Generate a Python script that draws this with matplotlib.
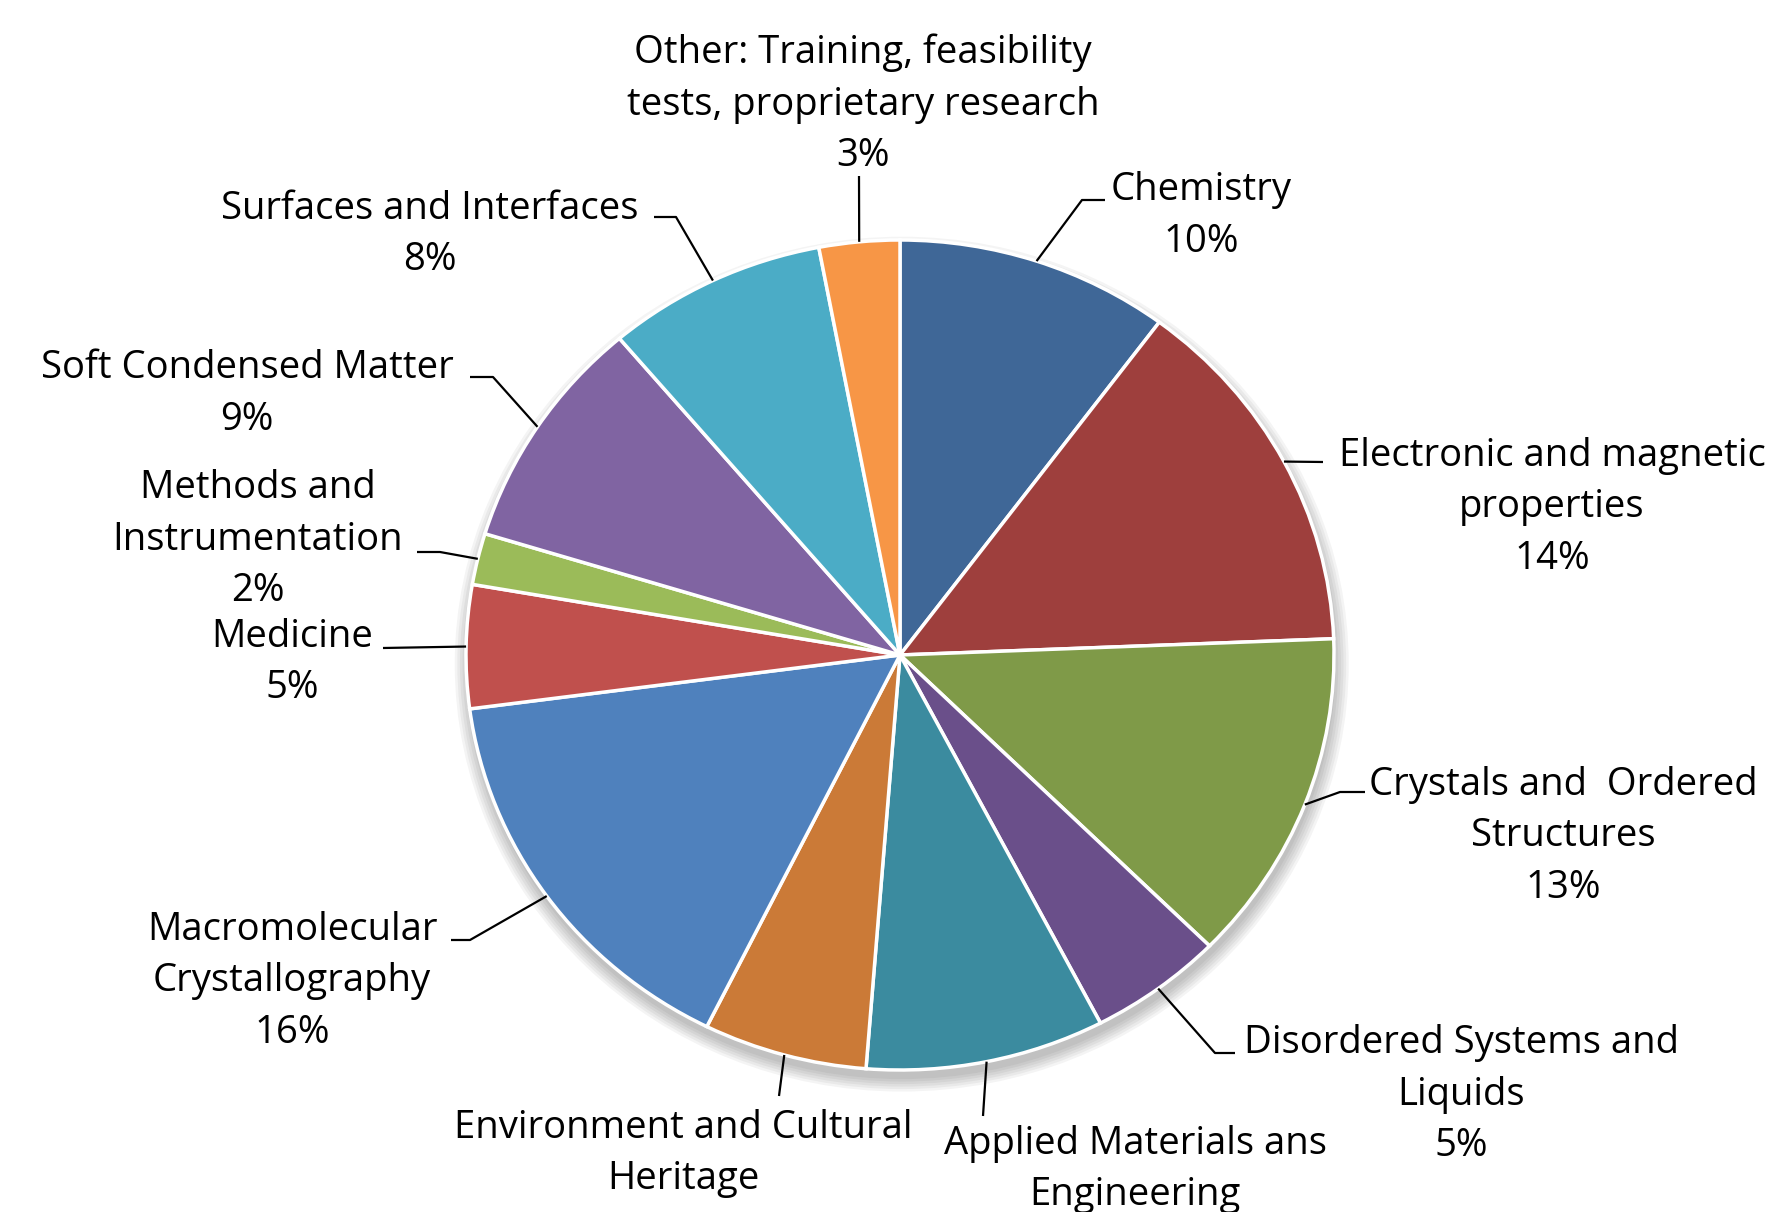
import numpy as np
import matplotlib
matplotlib.use("Agg")
from matplotlib import pyplot as plt
from matplotlib.patches import Ellipse

# data, clockwise from 12 o'clock
categories = ["Chemistry",
              "Electronic and magnetic\nproperties",
              "Crystals and  Ordered\nStructures",
              "Disordered Systems and\nLiquids",
              "Applied Materials ans\nEngineering",
              "Environment and Cultural\nHeritage",
              "Macromolecular\nCrystallography",
              "Medicine",
              "Methods and\nInstrumentation",
              "Soft Condensed Matter",
              "Surfaces and Interfaces",
              "Other: Training, feasibility\ntests, proprietary research"]
shares = [10.2, 14.2, 13.0, 5.0, 8.9, 6.1, 15.6, 4.8, 2.0, 9.1, 8.2, 3.0]
colors = ["#3F6797", "#9E3F3D", "#7F9A48", "#6A4F8A", "#3B8B9F", "#CB7A37",
          "#4F81BD", "#C0504D", "#9BBB59", "#8064A2", "#4BACC6", "#F79646"]

W, H = 1776, 1212
cx, cy, rx, ry = 900, 655, 434, 415   # pie is slightly stretched sideways

# label layout (pixels): text centre x, first baseline y, leader knee points
label_xy = [(1201, 200), (1552, 466), (1563, 795), (1461, 1053), (1135, 1154),
            (683, 1138), (292, 940), (292, 647), (258, 498), (247, 378),
            (430, 219), (863, 63)]
knees = [[(1105, 200), (1082, 200)],
         [(1323, 462)],
         [(1365, 792), (1340, 792)],
         [(1235, 1053), (1215, 1053)],
         [(983, 1116)],
         [(779, 1096)],
         [(451, 940), (470, 940)],
         [(383, 648)],
         [(417, 552), (440, 552)],
         [(470, 377), (493, 377)],
         [(654, 217), (676, 217)],
         [(859, 176)]]
pitch = 51.5

plt.rcParams['font.family'] = ['Open Sans', 'DejaVu Sans']
fig = plt.figure(figsize=(W / 100, H / 100), dpi=100)

pax = fig.add_axes([(cx - rx) / W, (H - cy - ry) / H, 2 * rx / W, 2 * ry / H])
# soft excel-like shadow under the pie
for k in range(6):
    pax.add_patch(Ellipse((0.004, -0.022), 2.0 + 0.012 * k, 2.0 + 0.012 * k,
                          color='black', alpha=0.045, lw=0, clip_on=False, zorder=0))
wedges, _ = pax.pie(shares, colors=colors, startangle=90, counterclock=False,
                    radius=1, wedgeprops=dict(edgecolor='white', linewidth=2.5))
for w in wedges:
    w.set_zorder(2)
pax.set_aspect('auto')
pax.set_xlim(-1, 1)
pax.set_ylim(-1, 1)
pax.axis('off')

ax = fig.add_axes([0, 0, 1, 1])
ax.set_xlim(0, W)
ax.set_ylim(H, 0)
ax.axis('off')
ax.patch.set_visible(False)

for i, w in enumerate(wedges):
    mid = np.deg2rad((w.theta1 + w.theta2) / 2)
    ex, ey = cx + rx * np.cos(mid), cy - ry * np.sin(mid)
    pts = knees[i] + [(ex, ey)]
    ax.plot([p[0] for p in pts], [p[1] for p in pts], color='black', lw=1.6,
            solid_capstyle='butt')
    lines = categories[i].split("\n") + ["%d%%" % round(shares[i])]
    tx, ty = label_xy[i]
    for j, line in enumerate(lines):
        y = ty + j * pitch
        if y > H:
            continue  # falls below the canvas, as in the original crop
        ax.text(tx, y, line, ha='center', va='baseline',
                fontsize=27.5, color='black', clip_on=True)

fig.savefig("out.png", dpi=100, facecolor='white')
